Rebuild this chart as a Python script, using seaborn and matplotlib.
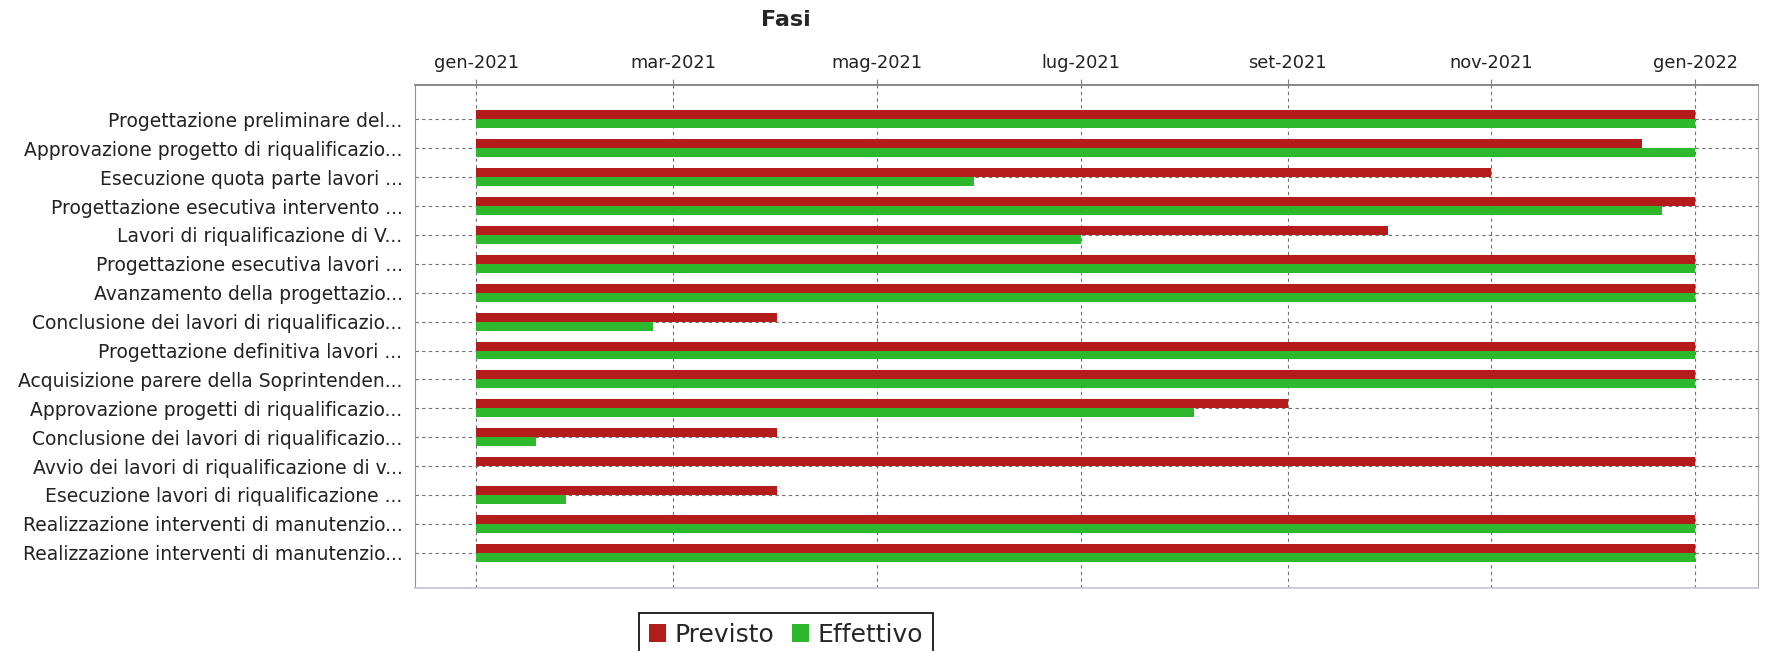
import pandas as pd
import numpy as np
import seaborn as sns
import matplotlib
matplotlib.use('Agg')
import matplotlib.pyplot as plt

# fasi del progetto (etichette gia' troncate come nel grafico originale)
fasi = [
    'Progettazione preliminare del...',
    'Approvazione progetto di riqualificazio...',
    'Esecuzione quota parte lavori ...',
    'Progettazione esecutiva intervento ...',
    'Lavori di riqualificazione di V...',
    'Progettazione esecutiva lavori ...',
    'Avanzamento della progettazio...',
    'Conclusione dei lavori di riqualificazio...',
    'Progettazione definitiva lavori ...',
    'Acquisizione parere della Soprintenden...',
    'Approvazione progetti di riqualificazio...',
    'Conclusione dei lavori di riqualificazio...',
    'Avvio dei lavori di riqualificazione di v...',
    'Esecuzione lavori di riqualificazione ...',
    'Realizzazione interventi di manutenzio...',
    'Realizzazione interventi di manutenzio...',
]

inizio = '2021-01-01'
fine_previsto = ['2021-12-31', '2021-12-15', '2021-10-31', '2021-12-31',
                 '2021-09-30', '2021-12-31', '2021-12-31', '2021-03-31',
                 '2021-12-31', '2021-12-31', '2021-08-31', '2021-03-31',
                 '2021-12-31', '2021-03-31', '2021-12-31', '2021-12-31']
fine_effettivo = ['2021-12-31', '2021-12-31', '2021-05-29', '2021-12-21',
                  '2021-06-30', '2021-12-31', '2021-12-31', '2021-02-22',
                  '2021-12-31', '2021-12-31', '2021-08-03', '2021-01-18',
                  None, '2021-01-27', '2021-12-31', '2021-12-31']

tick_date = ['2021-01-01', '2021-03-01', '2021-05-01', '2021-07-01',
             '2021-09-01', '2021-11-01', '2022-01-01']
tick_label = ['gen-2021', 'mar-2021', 'mag-2021', 'lug-2021',
              'set-2021', 'nov-2021', 'gen-2022']

serie = ['Previsto', 'Effettivo']
colori = ['#b41c1c', '#2db82d']

# durata in giorni (fine inclusa) dall'inizio comune
t0 = pd.Timestamp(inizio)
def giorni(lista):
    return [(pd.Timestamp(d) - t0).days + 1 if d else np.nan for d in lista]

righe = ['%02d' % i for i in range(len(fasi))]
df = pd.concat([
    pd.DataFrame({'riga': righe, 'giorni': giorni(fine_previsto), 'tipo': serie[0]}),
    pd.DataFrame({'riga': righe, 'giorni': giorni(fine_effettivo), 'tipo': serie[1]}),
], ignore_index=True)

sns.set_style('white')
plt.rcParams['font.family'] = ['DejaVu Sans']

fig = plt.figure(figsize=(17.66, 6.51), dpi=100)
ax = fig.add_axes([415 / 1766, 1 - 588 / 651, (1758 - 415) / 1766, (588 - 85) / 651])

sns.barplot(data=df, y='riga', x='giorni', hue='tipo', order=righe, hue_order=serie,
            palette=colori, orient='h', width=0.62, errorbar=None, saturation=1,
            linewidth=0, ax=ax)

handles, labels = ax.get_legend_handles_labels()
ax.get_legend().remove()

# asse x in alto con le date
xt = [(pd.Timestamp(d) - t0).days for d in tick_date]
ax.set_xticks(xt)
ax.set_xticklabels(tick_label)
ax.xaxis.tick_top()
ax.set_xlim(-18.3, 383.8)
ax.set_yticks(range(len(fasi)))
ax.set_yticklabels(fasi)
ax.set_ylim(len(fasi) + 0.22, -1.19)
ax.set_xlabel('')
ax.set_ylabel('')

ax.tick_params(axis='x', top=True, bottom=False, length=4, color='#808080',
               labelsize=12.8, pad=5, labelcolor='#222222')
ax.tick_params(axis='y', length=0, pad=9, labelsize=13.5, labelcolor='#222222')

ax.grid(True, linestyle=(0, (3, 3)), color='#707070', linewidth=0.8)
ax.set_axisbelow(True)

ax.spines['top'].set_color('#808080')
ax.spines['top'].set_linewidth(1.3)
ax.spines['left'].set_color('#909090')
ax.spines['right'].set_color('#a8a8a8')
ax.spines['bottom'].set_color('#c8c8dc')
ax.spines['bottom'].set_linewidth(1.3)

fig.text(786 / 1766, 1 - 20 / 651, 'Fasi', ha='center', va='center',
         fontsize=16, fontweight='bold')

leg = fig.legend(handles, labels, loc='upper center', ncol=2,
                 bbox_to_anchor=(786 / 1766, 1 - 600 / 651),
                 fontsize=18, frameon=True, fancybox=False, framealpha=1,
                 edgecolor='black', handlelength=0.7, handleheight=0.7,
                 handletextpad=0.33, columnspacing=0.7, borderpad=0.4)
leg.get_frame().set_linewidth(1.2)

plt.savefig('out.png', dpi=100)
